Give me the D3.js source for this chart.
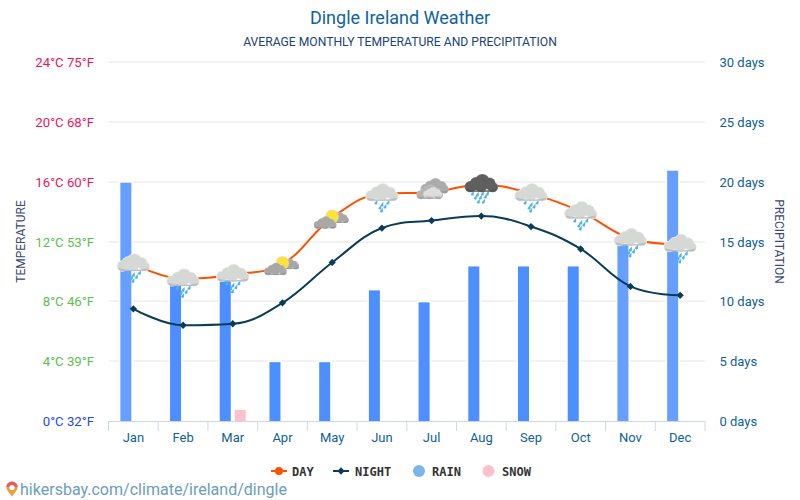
<!DOCTYPE html>
<html><head><meta charset="utf-8">
<style>html,body{margin:0;padding:0;background:#fff}svg{display:block}text{font-family:Roboto,sans-serif}</style>
<script src="https://cdn.jsdelivr.net/npm/d3@7/dist/d3.min.js"></script>
</head><body><div id="c"></div>
<script>
const months = ["Jan","Feb","Mar","Apr","May","Jun","Jul","Aug","Sep","Oct","Nov","Dec"];
const dayTemp = [10.5,9.5,9.8,10.5,13.6,15.2,15.3,15.8,15.2,14,12.2,11.8];
const nightTemp = [7.5,6.4,6.5,7.9,10.6,12.9,13.4,13.7,13,11.5,9,8.4];
const rainDays = [20,12,12,5,5,11,10,13,13,13,15,21];
const snowDays = [0,0,1,0,0,0,0,0,0,0,0,0];
const icons = ["rain","rain","rain","sun","sun","rain","cloud","dark","rain","rain","rain","rain"];
const tempTicks = [0,4,8,12,16,20,24];
const tempLabels = ["0°C 32°F","4°C 39°F","8°C 46°F","12°C 53°F","16°C 60°F","20°C 68°F","24°C 75°F"];
const tempColors = ["#2347f5","#5cbf4f","#5cbf4f","#5cbf4f","#f0145a","#f0145a","#f0145a"];
const rainTicks = [0,5,10,15,20,25,30];

const W=800,H=500,L=108.5,R=705,T=62,B=421;
const svg=d3.select("#c").append("svg").attr("width",W).attr("height",H);
const x=d3.scaleBand().domain(months).range([L,R]);
const yT=d3.scaleLinear().domain([0,24]).range([B,T]);
const yR=d3.scaleLinear().domain([0,30]).range([B,T]);
const cx=m=>x(m)+x.bandwidth()/2;

// titles
svg.append("text").attr("x",400).attr("y",24).attr("text-anchor","middle").attr("font-size",18).attr("fill","#0f639f").text("Dingle Ireland Weather");
svg.append("text").attr("x",400).attr("y",46).attr("text-anchor","middle").attr("font-size",12.15).attr("fill","#1a4378").text("AVERAGE MONTHLY TEMPERATURE AND PRECIPITATION");

// grid
svg.append("g").selectAll("line").data(tempTicks.slice(1)).join("line")
 .attr("x1",L).attr("x2",R).attr("y1",d=>Math.round(yT(d))).attr("y2",d=>Math.round(yT(d))).attr("stroke","#e6e6e6");

// left axis
const gl=svg.append("g").call(d3.axisLeft(yT).tickValues(tempTicks).tickSize(0).tickFormat((d,i)=>tempLabels[i]));
gl.attr("transform",`translate(${L},0)`).select(".domain").remove();
gl.selectAll("text").attr("x",-14.5).attr("dy",null).attr("y",4.5).attr("font-size",13.2).attr("font-family","Roboto,sans-serif").attr("fill",(d,i)=>tempColors[i]);
// right axis
const gr=svg.append("g").attr("transform",`translate(${R},0)`).call(d3.axisRight(yR).tickValues(rainTicks).tickSize(0).tickFormat(d=>d+" days"));
gr.select(".domain").remove();
gr.selectAll("text").attr("x",14.5).attr("dy",null).attr("y",4.5).attr("font-size",13).attr("font-family","Roboto,sans-serif").attr("fill","#0f5f96");

// axis titles
svg.append("text").attr("transform","translate(25,241.5) rotate(-90)").attr("text-anchor","middle").attr("font-size",12).attr("fill","#3b4a75").text("TEMPERATURE");
svg.append("text").attr("transform","translate(775,241.5) rotate(90)").attr("text-anchor","middle").attr("font-size",12).attr("fill","#3b4a75").text("PRECIPITATION");

// bars (top edge sits 1px under the value: inner border)
const barW=11, inset=1;
svg.append("g").selectAll("rect").data(months).join("rect")
 .attr("x",m=>cx(m)-13).attr("width",barW)
 .attr("y",(m,i)=>yR(rainDays[i])+inset).attr("height",(m,i)=>B-yR(rainDays[i])-inset)
 .attr("fill",(m,i)=>rainDays[i]>=15?"#669fff":"#4d8fff")
 .attr("stroke","#fff").attr("stroke-width",3).attr("paint-order","stroke");
svg.append("g").selectAll("rect").data(months.filter((m,i)=>snowDays[i]>0)).join("rect")
 .attr("x",m=>cx(m)+2).attr("width",barW)
 .attr("y",m=>yR(snowDays[months.indexOf(m)])+inset).attr("height",m=>B-yR(snowDays[months.indexOf(m)])-inset)
 .attr("fill","#ffc0cb");

// bottom axis
const gb=svg.append("g").attr("transform",`translate(0,${B})`).call(d3.axisBottom(x).tickSize(0));
gb.select(".domain").attr("stroke","#ccd6eb").attr("d",`M${L},0.5H${R}`);
gb.selectAll("text").attr("y",21).attr("dy",null).attr("font-size",13).attr("font-family","Roboto,sans-serif").attr("fill","#0f5f96");
gb.append("g").selectAll("line").data(d3.range(13)).join("line")
 .attr("x1",i=>L+i*x.bandwidth()).attr("x2",i=>L+i*x.bandwidth()).attr("y1",0).attr("y2",10).attr("stroke","#ccd6eb");

// Highcharts-like spline as a D3 curve
function spline(ctx){
 let p=[];
 return {areaStart(){},areaEnd(){},lineStart(){p=[]},point(a,b){p.push([+a,+b])},
 lineEnd(){
  const s=1.5,d=2.5,c=[];
  p.forEach((q,i)=>{
   if(i==0||i==p.length-1){c.push([q[0],q[1],q[0],q[1]]);return;}
   const a=p[i-1],b=p[i+1];
   let lx=(s*q[0]+a[0])/d,ly=(s*q[1]+a[1])/d,rx=(s*q[0]+b[0])/d,ry=(s*q[1]+b[1])/d;
   const k=((ry-ly)*(rx-q[0]))/(rx-lx)+q[1]-ry;ly+=k;ry+=k;
   if(ly>a[1]&&ly>q[1]){ly=Math.max(a[1],q[1]);ry=2*q[1]-ly;}
   else if(ly<a[1]&&ly<q[1]){ly=Math.min(a[1],q[1]);ry=2*q[1]-ly;}
   if(ry>b[1]&&ry>q[1]){ry=Math.max(b[1],q[1]);ly=2*q[1]-ry;}
   else if(ry<b[1]&&ry<q[1]){ry=Math.min(b[1],q[1]);ly=2*q[1]-ry;}
   c.push([lx,ly,rx,ry]);
  });
  ctx.moveTo(p[0][0],p[0][1]);
  for(let i=1;i<p.length;i++)ctx.bezierCurveTo(c[i-1][2],c[i-1][3],c[i][0],c[i][1],p[i][0],p[i][1]);
 }};
}
const line=d3.line().x((v,i)=>cx(months[i])).y(v=>yT(v)).curve(spline);
const dayCol="#ff5000",nightCol="#0b3c57";
svg.append("path").attr("d",line(dayTemp)).attr("fill","none").attr("stroke",dayCol).attr("stroke-width",2);
svg.append("path").attr("d",line(nightTemp)).attr("fill","none").attr("stroke",nightCol).attr("stroke-width",2);
const diamond=d3.symbol().type(d3.symbolDiamond2).size(34);
svg.append("g").selectAll("path").data(nightTemp).join("path").attr("d",diamond)
 .attr("transform",(v,i)=>`translate(${cx(months[i])},${yT(v)})`).attr("fill",nightCol);

// weather icons
function cloud(g,dx,dy,s,fill,edge){
 const parts=[[-11,2,5],[-5,-1,6],[1,-3.5,6.5],[8,-1,5.5],[11.5,2.5,4.5],[0,2,5]];
 const c=g.append("g").attr("transform",`translate(${dx},${dy}) scale(${s})`);
 c.selectAll(".e").data(parts).join("circle").attr("cx",d=>d[0]).attr("cy",d=>d[1]).attr("r",d=>d[2]+.7).attr("fill",edge);
 c.selectAll(".f").data(parts).join("circle").attr("cx",d=>d[0]).attr("cy",d=>d[1]).attr("r",d=>d[2]).attr("fill",fill);
 c.append("path").attr("d","M-15,4Q0,8 15.5,4Q15,7 11,7H-11Q-15,7 -15,4Z").attr("fill",d3.color(fill).darker(.35));
}
function drops(g,pts,color){
 g.selectAll(".drop").data(pts).join("path")
  .attr("d",d=>`M${d[0]+1.6},${d[1]-3}L${d[0]-1.6},${d[1]+.6}A1.8,1.8 0 0 0 ${d[0]+1.4},${d[1]+1.4}Z`).attr("fill",color);
}
const rainDrops=[[-6,9],[0,11],[6,9],[-2,14],[3,13],[-.5,17]];
const darkDrops=[[-9,9],[-4,10],[1,9],[6,9],[-6,13],[-1,13],[4,12],[-3,17],[2,17]];
svg.append("g").selectAll("g").data(months).join("g")
 .attr("transform",(m,i)=>`translate(${cx(m)},${yT(dayTemp[i])})`)
 .each(function(m,i){
  const g=d3.select(this),t=icons[i];
  if(t=="rain"){drops(g,rainDrops,"#4fb3e8");cloud(g,0,0,1,"#d5d8d5","#eef0ee");}
  else if(t=="dark"){drops(g,darkDrops,"#4fb3e8");cloud(g,0,0,1,"#5f5f5f","#6f6f6f");}
  else if(t=="cloud"){cloud(g,3,-5,.85,"#ababab","#bcbcbc");cloud(g,-2,1,.8,"#b5b5b5","#c4c4c4");cloud(g,1,1,.55,"#dcdedc","#eaecea");}
  else{
   cloud(g,7,1,.58,"#a8a8a8","#bbb");
   g.append("circle").attr("cx",0).attr("cy",-1).attr("r",6.5).attr("fill","#fbe43a").attr("stroke","#f5c9a8").attr("stroke-width",1).attr("stroke-dasharray","1 1");
   cloud(g,-7,6,.68,"#a8a8a8","#bbb");
  }
 });

// legend
const lg=[["DAY",dayCol,"line",271,292],["NIGHT",nightCol,"dia",333,355],["RAIN","#7cb5ec","dot",419,432],["SNOW","#ffc0cb","dot",488.5,502]];
const lgRow=471;
lg.forEach(([t,c,k,x0,tx])=>{
 if(k=="dot")svg.append("circle").attr("cx",x0).attr("cy",lgRow).attr("r",6).attr("fill",c);
 else{
  svg.append("line").attr("x1",x0).attr("x2",x0+16).attr("y1",lgRow).attr("y2",lgRow).attr("stroke",c).attr("stroke-width",2);
  if(k=="line")svg.append("circle").attr("cx",x0+8).attr("cy",lgRow).attr("r",4).attr("fill",c);
  else svg.append("path").attr("d",diamond).attr("transform",`translate(${x0+8},${lgRow})`).attr("fill",c);
 }
 const lbl=svg.append("text").attr("x",tx).attr("y",lgRow+4.5).attr("font-size",12).attr("font-weight","bold").attr("fill","#333").text(t);
 lbl.style("font-family","'DejaVu Sans Mono',monospace");
});

// footer
svg.append("path").attr("d","M12,481.5a5.6,5.6 0 0 1 5.6,5.6c0,3.6 -3.6,6.5 -5.6,9.5c-2,-3 -5.6,-5.9 -5.6,-9.5a5.6,5.6 0 0 1 5.6,-5.6z").attr("fill","#e8a33d");
svg.append("path").attr("d","M12,481.5a5.6,5.6 0 0 1 5.6,5.6h-11.2a5.6,5.6 0 0 1 5.6,-5.6z").attr("fill","#e8566c");
svg.append("circle").attr("cx",12).attr("cy",487.5).attr("r",2.6).attr("fill","#fff");
svg.append("text").attr("x",20).attr("y",495).attr("font-size",16.05).attr("fill","#6c9cbc").text("hikersbay.com/climate/ireland/dingle");
</script></body></html>
